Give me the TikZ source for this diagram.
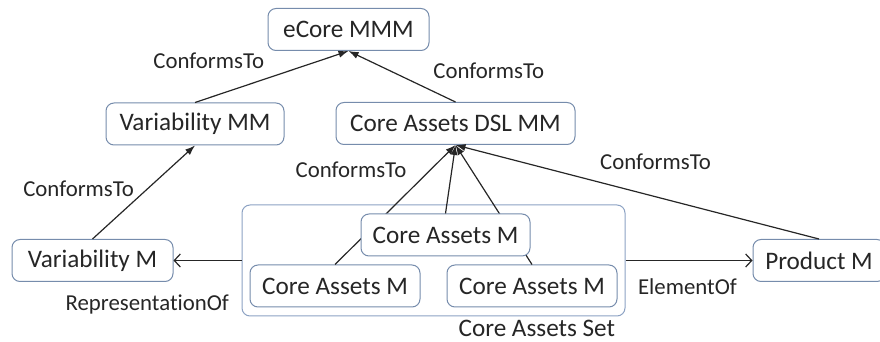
\documentclass[tikz,border=0pt]{standalone}
\usepackage{fontspec}
\setmainfont{Carlito}[Ligatures=NoCommon]
\usetikzlibrary{positioning, arrows.meta}
\definecolor{boxline}{RGB}{118,140,172}
\definecolor{setline}{RGB}{140,162,195}
\newcommand\boxfont{\fontsize{12.6}{15}\selectfont}
\newcommand\lblfont{\fontsize{11.4}{13}\selectfont}
\tikzset{
  box/.style = {draw=boxline, line width=0.5pt, rounded corners=4pt, fill=white, inner sep=0pt, minimum height=21pt, font=\boxfont, text=black!85},
  lbl/.style = {inner sep=0pt, font=\lblfont, text=black!85},
  conf/.style = {line width=0.6pt, black!85, -{Latex[length=5pt, width=3.6pt]}},
  rel/.style = {line width=0.6pt, black!85, -{Straight Barb[length=3pt, width=6.5pt]}}
}

\begin{document}
\begin{tikzpicture}[x=0.5pt, y=-0.5pt]
\useasboundingbox (0,0) rectangle (880,342);
\node[box, minimum width=80.5pt] (ecore) at (348.5,29.5) {eCore MMM};
\node[box, minimum width=89pt] (varmm) at (195,124) {Variability MM};
\node[box, minimum width=119.5pt] (dslmm) at (455.5,123.5) {Core Assets DSL MM};
\node[box, minimum width=80.5pt] (varm) at (92.5,260.5) {Variability M};
\node[box, minimum width=66pt] (prod) at (819,260.5) {Product M};
\node[draw=setline, line width=0.5pt, rounded corners=4pt, minimum width=191.5pt, minimum height=55.5pt] (set) at (433.5,260.5) {};
\node[lbl, font=\boxfont, below left=1.5pt and 5pt] (setname) at (set.south east) {Core Assets Set};
\node[box, minimum width=85pt] (cal) at (335,286) {Core Assets M};
\node[box, minimum width=85pt] (car) at (532,286) {Core Assets M};
\draw [conf] (cal.north) -- (dslmm.south) node[lbl, pos=.66, above left=3.8pt and 3.8pt]{ConformsTo};
\draw [conf] (car.north) -- (dslmm.south);
\node[box, minimum width=84.5pt] (cam) at (445.5,235) {Core Assets M};
\draw [conf] (cam.north) -- (dslmm.south);
\draw [conf] (varmm.north) -- (ecore.south) node[lbl, pos=.5, above left=3.5pt and 3.5pt]{ConformsTo};
\draw [conf] (dslmm.north) -- (ecore.south) node[lbl, pos=.29, above right=4.2pt and 4.2pt]{ConformsTo};
\draw [conf] (varm.north) -- (varmm.south) node[lbl, pos=.43, above left=1pt and 1pt]{ConformsTo};
\draw [conf] (prod.north) -- (dslmm.south) node[lbl, pos=.63, above right=4.8pt and 4.8pt]{ConformsTo};
\draw [rel] (set) -- (varm) node[lbl, pos=0, below left=17pt and 6pt]{RepresentationOf};
\draw [rel] (set) -- (prod) node[lbl, pos=0, below right=9pt and 6pt]{ElementOf};
\end{tikzpicture}
\end{document}
